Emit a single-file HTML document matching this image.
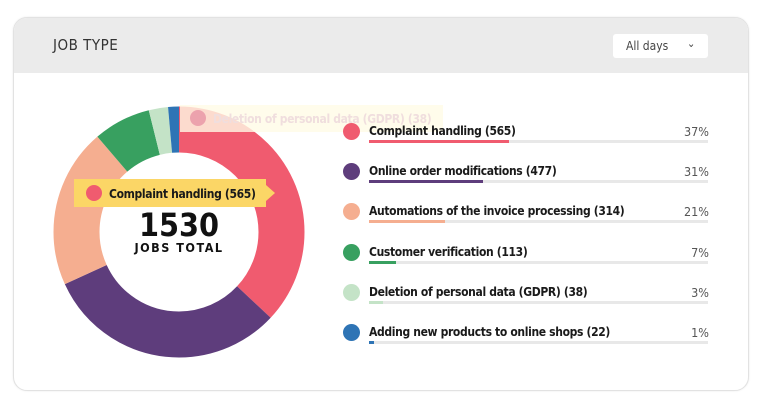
<!DOCTYPE html>
<html><head><meta charset="utf-8"><style>
body{margin:0;width:778px;height:408px;background:#fff;font-family:"DejaVu Sans Condensed","Liberation Sans",sans-serif;position:relative;overflow:hidden}
.card{position:absolute;left:13px;top:17px;width:734px;height:372px;border:1px solid #e2e2e2;border-radius:14px;overflow:hidden;background:#fff;box-shadow:0 0 2px rgba(0,0,0,.08)}
.hdr{position:absolute;left:0;top:0;width:100%;height:55px;background:#ebebeb}
.title{position:absolute;left:39px;top:18px;font-size:15px;color:#333;letter-spacing:.5px}
.dd{position:absolute;left:599px;top:16px;width:95px;height:24px;background:#fff;border-radius:3px;font-size:12px;color:#444}
.dd span{position:absolute;left:13px;top:5px}
.dd i{position:absolute;left:74px;top:3px;font-style:normal;font-size:11px}
.row{position:absolute;left:343px;width:366px;height:30px}
.dot{position:absolute;left:0;top:-1px;width:17px;height:17px;border-radius:50%}
.lbl{position:absolute;left:26px;top:0;font-size:12px;letter-spacing:-0.35px;font-weight:bold;color:#1a1a1a;white-space:nowrap}
.pct{position:absolute;right:0;top:0;font-size:12.5px;color:#555}
.trk{position:absolute;left:26px;top:16px;width:339px;height:3px;background:#e8e8e8}
.bar{position:absolute;left:0;top:0;height:3px}
</style></head><body>
<div class="card"><div class="hdr"></div><div class="title">JOB TYPE</div><div class="dd"><span>All days</span><i>&#8964;</i></div></div>
<svg style="position:absolute;left:0;top:0" width="778" height="408">
<g transform="rotate(-90 179 232)" fill="none" stroke-width="46">
<circle cx="179" cy="232" r="102.5" stroke="#f05b6f" stroke-dasharray="238 1000" stroke-dashoffset="0"/>
<circle cx="179" cy="232" r="102.5" stroke="#5e3d7c" stroke-dasharray="200.9 1000" stroke-dashoffset="-238"/>
<circle cx="179" cy="232" r="102.5" stroke="#f5ae90" stroke-dasharray="132.3 1000" stroke-dashoffset="-438.9"/>
<circle cx="179" cy="232" r="102.5" stroke="#38a060" stroke-dasharray="47.6 1000" stroke-dashoffset="-571.2"/>
<circle cx="179" cy="232" r="102.5" stroke="#c4e3c7" stroke-dasharray="16 1000" stroke-dashoffset="-618.8"/>
<circle cx="179" cy="232" r="102.5" stroke="#2e74b5" stroke-dasharray="9.3 1000" stroke-dashoffset="-634.8"/>
</g>
<rect x="180" y="105" width="263" height="27" fill="#fffbe6" opacity="0.8"/>
<circle cx="198" cy="118" r="8" fill="#e58aa0" opacity="0.7"/>
<text x="213" y="123" font-size="12" letter-spacing="-0.35" font-weight="bold" fill="#f0dede" font-family="DejaVu Sans Condensed,Liberation Sans,sans-serif">Deletion of personal data (GDPR) (38)</text>
<rect x="74" y="179" width="192" height="28" fill="#fbd666"/>
<polygon points="266,185 275,193 266,201" fill="#fbd666"/>
<circle cx="94" cy="193" r="8" fill="#f05b6f"/>
<text x="109" y="198" font-size="12" letter-spacing="-0.35" font-weight="bold" fill="#1a1a1a" font-family="DejaVu Sans Condensed,Liberation Sans,sans-serif">Complaint handling (565)</text>
<text x="179" y="236" text-anchor="middle" font-size="32" font-weight="bold" fill="#111" font-family="DejaVu Sans Condensed,Liberation Sans,sans-serif">1530</text>
<text x="179" y="252" text-anchor="middle" font-size="12.5" font-weight="bold" fill="#111" letter-spacing="1.5" font-family="DejaVu Sans Condensed,Liberation Sans,sans-serif">JOBS TOTAL</text>
</svg>
<div class="row" style="top:124px"><div class="dot" style="background:#f05b6f"></div><div class="lbl">Complaint handling (565)</div><div class="pct">37%</div><div class="trk"><div class="bar" style="width:140px;background:#f05b6f"></div></div></div>
<div class="row" style="top:164px"><div class="dot" style="background:#5e3d7c"></div><div class="lbl">Online order modifications (477)</div><div class="pct">31%</div><div class="trk"><div class="bar" style="width:114px;background:#5e3d7c"></div></div></div>
<div class="row" style="top:204px"><div class="dot" style="background:#f5ae90"></div><div class="lbl">Automations of the invoice processing (314)</div><div class="pct">21%</div><div class="trk"><div class="bar" style="width:76px;background:#f5ae90"></div></div></div>
<div class="row" style="top:245px"><div class="dot" style="background:#38a060"></div><div class="lbl">Customer verification (113)</div><div class="pct">7%</div><div class="trk"><div class="bar" style="width:27px;background:#38a060"></div></div></div>
<div class="row" style="top:285px"><div class="dot" style="background:#c4e3c7"></div><div class="lbl">Deletion of personal data (GDPR) (38)</div><div class="pct">3%</div><div class="trk"><div class="bar" style="width:14px;background:#c4e3c7"></div></div></div>
<div class="row" style="top:325px"><div class="dot" style="background:#2e74b5"></div><div class="lbl">Adding new products to online shops (22)</div><div class="pct">1%</div><div class="trk"><div class="bar" style="width:5px;background:#2e74b5"></div></div></div>
</body></html>
